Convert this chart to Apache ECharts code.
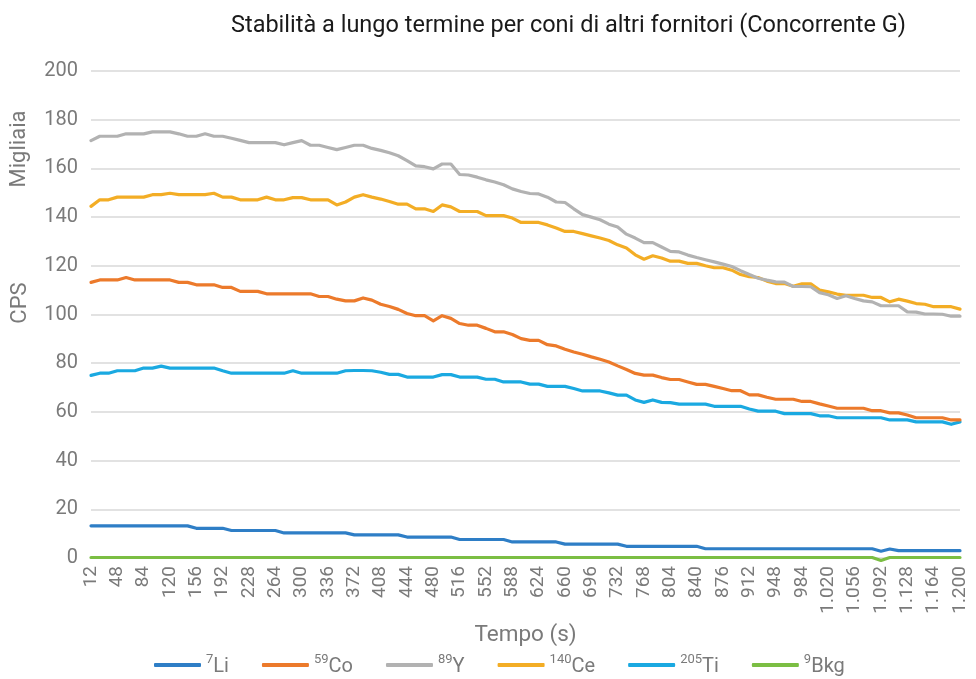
<!DOCTYPE html>
<html>
<head>
<meta charset="utf-8">
<script src="https://cdn.jsdelivr.net/npm/echarts@6/dist/echarts.min.js"></script>
<style>html,body{margin:0;padding:0;background:#fff;}#c{width:976px;height:679px;}</style>
</head>
<body>
<div id="c"></div>
<script>
var categories = ["12","24","36","48","60","72","84","96","108","120","132","144","156","168","180","192","204","216","228","240","252","264","276","288","300","312","324","336","348","360","372","384","396","408","420","432","444","456","468","480","492","504","516","528","540","552","564","576","588","600","612","624","636","648","660","672","684","696","708","720","732","744","756","768","780","792","804","816","828","840","852","864","876","888","900","912","924","936","948","960","972","984","996","1.008","1.020","1.032","1.044","1.056","1.068","1.080","1.092","1.104","1.116","1.128","1.140","1.152","1.164","1.176","1.188","1.200"];

var yTicks = [0,20,40,60,80,100,120,140,160,180,200];

var li7 = [13.2,13.2,13.2,13.2,13.2,13.2,13.2,13.2,13.2,13.2,13.2,13.2,
  12.2,12.2,12.2,12.2,
  11.3,11.3,11.3,11.3,11.3,11.3,
  10.3,10.3,10.3,10.3,10.3,10.3,10.3,10.3,
  9.5,9.5,9.5,9.5,9.5,9.5,
  8.6,8.6,8.6,8.6,8.6,8.6,
  7.6,7.6,7.6,7.6,7.6,7.6,
  6.6,6.6,6.6,6.6,6.6,6.6,
  5.7,5.7,5.7,5.7,5.7,5.7,5.7,
  4.8,4.8,4.8,4.8,4.8,4.8,4.8,4.8,4.8,
  3.8,3.8,3.8,3.8,3.8,3.8,3.8,3.8,3.8,3.8,3.8,3.8,3.8,3.8,3.8,3.8,3.8,3.8,3.8,3.8,
  2.8,3.7,
  3.0,3.0,3.0,3.0,3.0,3.0,3.0,3.0];

var co59 = [113.2,114.2,114.2,114.2,115.2,114.2,114.2,114.2,114.2,114.2,113.2,113.2,112.2,112.2,112.2,111.1,111.1,109.5,109.5,109.5,108.5,108.5,108.5,108.5,108.5,108.5,107.4,107.4,106.3,105.6,105.6,106.8,105.9,
  104.2,103.3,102.1,100.4,99.5,99.5,97.4,99.5,98.4,96.3,95.6,95.6,94.3,92.9,92.9,91.8,90.1,89.4,89.4,87.6,87.1,85.7,84.6,83.7,82.6,81.6,80.5,78.9,77.4,75.8,75.1,75.1,74.1,
  73.3,73.3,72.3,71.3,71.3,70.5,69.6,68.7,68.7,67.0,67.0,66.0,65.2,65.2,65.2,64.3,64.3,63.3,62.4,61.5,61.5,61.5,61.5,60.5,60.5,59.6,59.6,58.7,57.6,57.6,57.6,57.6,56.7,56.7];

var y89 = [171.4,173.2,173.2,173.2,174.2,174.2,174.2,175.0,175.0,175.0,174.2,173.2,173.2,174.2,173.2,173.2,172.4,171.5,170.6,170.6,170.6,170.6,169.7,170.6,171.4,169.5,169.5,168.6,167.7,168.6,169.5,169.5,168.2,
  167.4,166.4,165.2,163.2,161.0,160.7,159.8,161.8,161.8,157.5,157.3,156.4,155.3,154.4,153.3,151.6,150.5,149.7,149.5,148.2,146.2,146.0,143.4,141.0,140.0,138.9,137.1,135.9,133.0,131.4,129.5,129.5,127.7,
  125.9,125.7,124.4,123.4,122.5,121.6,120.7,119.7,118.0,116.4,114.9,114.1,113.4,113.3,111.5,111.5,111.4,109.0,108.1,106.6,107.7,106.6,105.6,105.2,103.6,103.6,103.6,101.1,101.0,100.2,100.2,100.1,99.3,99.3];

var ce140 = [144.4,147.1,147.1,148.2,148.2,148.2,148.2,149.2,149.2,149.8,149.2,149.2,149.2,149.2,149.8,148.2,148.2,147.1,147.1,147.1,148.2,147.1,147.1,148.0,148.0,147.1,147.1,147.1,145.0,146.2,148.2,149.2,148.2,
  147.4,146.4,145.3,145.3,143.4,143.4,142.3,145.0,144.2,142.3,142.3,142.3,140.6,140.6,140.6,139.6,137.8,137.8,137.8,136.8,135.5,134.1,134.1,133.2,132.3,131.4,130.4,128.6,127.3,124.5,122.7,124.1,123.2,
  121.9,121.9,121.0,121.0,120.0,119.2,119.2,118.2,116.4,115.5,115.2,113.7,112.7,112.7,111.6,112.6,112.6,110.0,109.3,108.4,107.9,107.9,107.9,107.0,107.0,105.2,106.3,105.5,104.5,104.2,103.2,103.2,103.2,102.2];

var ti205 = [75.0,75.9,75.9,76.9,76.9,76.9,78.0,78.0,78.8,78.0,78.0,78.0,78.0,78.0,78.0,76.9,75.9,75.9,75.9,75.9,75.9,75.9,75.9,76.9,75.9,75.9,75.9,75.9,75.9,76.9,77.0,77.0,76.9,
  76.3,75.4,75.4,74.3,74.3,74.3,74.3,75.3,75.3,74.3,74.3,74.3,73.4,73.4,72.3,72.3,72.3,71.4,71.4,70.5,70.5,70.5,69.6,68.6,68.6,68.6,67.8,66.9,66.9,64.9,63.9,64.9,63.9,
  63.8,63.2,63.2,63.2,63.2,62.3,62.3,62.3,62.3,61.2,60.3,60.3,60.3,59.3,59.3,59.3,59.3,58.4,58.4,57.6,57.6,57.6,57.6,57.6,57.6,56.7,56.7,56.7,55.9,55.9,55.9,55.9,54.9,55.9];

var bkg9 = [0.2,0.2,0.2,0.2,0.2,0.2,0.2,0.2,0.2,0.2,
  0.2,0.2,0.2,0.2,0.2,0.2,0.2,0.2,0.2,0.2,
  0.2,0.2,0.2,0.2,0.2,0.2,0.2,0.2,0.2,0.2,
  0.2,0.2,0.2,0.2,0.2,0.2,0.2,0.2,0.2,0.2,
  0.2,0.2,0.2,0.2,0.2,0.2,0.2,0.2,0.2,0.2,
  0.2,0.2,0.2,0.2,0.2,0.2,0.2,0.2,0.2,0.2,
  0.2,0.2,0.2,0.2,0.2,0.2,0.2,0.2,0.2,0.2,
  0.2,0.2,0.2,0.2,0.2,0.2,0.2,0.2,0.2,0.2,
  0.2,0.2,0.2,0.2,0.2,0.2,0.2,0.2,0.2,0.2,
  -1.0,0.2,0.2,0.2,0.2,0.2,0.2,0.2,0.2,0.2];

var seriesNames = ["7Li","59Co","89Y","140Ce","205Ti","9Bkg"];
var seriesSup = ["7","59","89","140","205","9"];
var seriesEl = ["Li","Co","Y","Ce","Ti","Bkg"];
var seriesColors = ["#2E7EC6","#EC7A2B","#B2B2B2","#F3AD25","#1AA9E1","#7BBE43"];
var seriesData = [li7, co59, y89, ce140, ti205, bkg9];

var chart = echarts.init(document.getElementById('c'), null, {renderer: 'canvas'});
var font = 'Roboto, "Noto Sans", sans-serif';
var grey = '#7a7a7a';

var series = seriesNames.map(function (n, k) {
  return {
    name: n,
    type: 'line',
    data: seriesData[k],
    showSymbol: false,
    symbol: 'none',
    clip: false,
    lineStyle: {color: seriesColors[k], width: 3.2, cap: 'round', join: 'round'},
    itemStyle: {color: seriesColors[k]},
    z: 10 - k
  };
});

chart.setOption({
  animation: false,
  backgroundColor: '#ffffff',
  title: {
    text: 'Stabilità a lungo termine per coni di altri fornitori (Concorrente G)',
    left: 226, top: 9,
    textStyle: {fontFamily: font, fontSize: 23.5, fontWeight: 'normal', color: '#1a1a1a'}
  },
  grid: {left: 91, right: 16, top: 71, bottom: 121, containLabel: false},
  xAxis: {
    type: 'category',
    data: categories,
    boundaryGap: false,
    axisLine: {show: false},
    axisTick: {show: false},
    axisLabel: {interval: 2, rotate: 90, margin: 8, color: grey, fontFamily: font, fontSize: 19},
    name: 'Tempo (s)',
    nameLocation: 'middle',
    nameGap: 66,
    nameTextStyle: {color: grey, fontFamily: font, fontSize: 22.5}
  },
  yAxis: {
    type: 'value',
    min: yTicks[0], max: yTicks[yTicks.length - 1], interval: yTicks[1] - yTicks[0],
    axisLine: {show: false},
    axisTick: {show: false},
    axisLabel: {margin: 13, color: grey, fontFamily: font, fontSize: 20},
    splitLine: {lineStyle: {color: '#d9d9d9', width: 1.5}}
  },
  legend: {
    top: 653, left: 154,
    padding: 0,
    itemWidth: 47, itemHeight: 4, itemGap: 33,
    icon: 'roundRect',
    data: seriesNames,
    formatter: function (n) {
      var k = seriesNames.indexOf(n);
      return '{s|' + seriesSup[k] + '}{m|' + seriesEl[k] + '}';
    },
    textStyle: {
      fontFamily: font, color: grey, lineHeight: 24,
      rich: {
        s: {fontFamily: font, fontSize: 13, color: grey, verticalAlign: 'top', lineHeight: 14},
        m: {fontFamily: font, fontSize: 20, color: grey, verticalAlign: 'bottom', lineHeight: 24}
      }
    }
  },
  graphic: [
    {type: 'text', x: 19, y: 149, rotation: Math.PI / 2,
     style: {text: 'Migliaia', font: '22px ' + font, fill: grey, textAlign: 'center', textVerticalAlign: 'middle'}},
    {type: 'text', x: 20, y: 303, rotation: Math.PI / 2,
     style: {text: 'CPS', font: '22px ' + font, fill: grey, textAlign: 'center', textVerticalAlign: 'middle'}}
  ],
  series: series
});
</script>
</body>
</html>
